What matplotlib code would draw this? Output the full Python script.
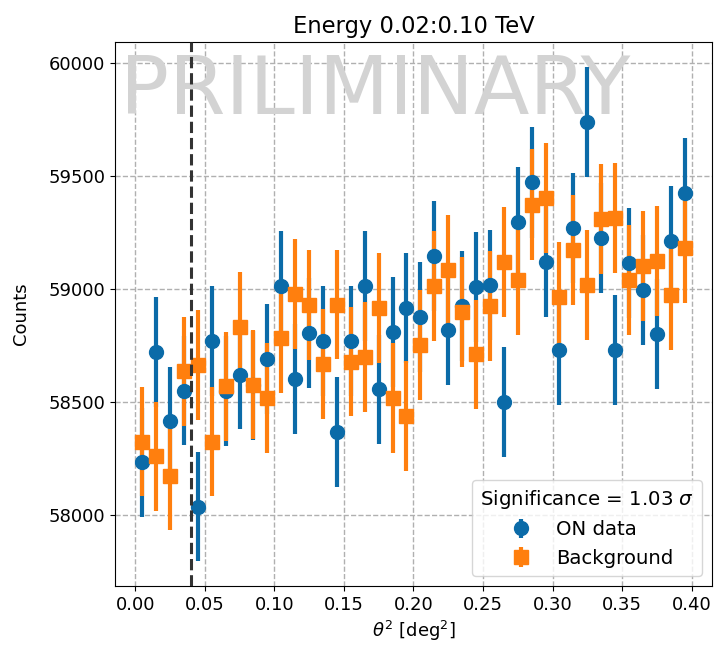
import matplotlib
matplotlib.use('Agg')
import matplotlib.pyplot as plt
import numpy as np

plt.rcParams['font.family'] = ['DejaVu Sans']
plt.rcParams['font.size'] = 13

# theta^2 bin centres (bin width 0.01 deg^2)
theta2 = np.arange(0.005, 0.40, 0.01)

on_counts = [58234, 58723, 58415, 58551, 58038, 58770, 58550, 58622, 58575, 58691,
             59014, 58604, 58806, 58770, 58368, 58770, 59014, 58557, 58811, 58917,
             58877, 59145, 58819, 58924, 59011, 59019, 58502, 59295, 59472, 59122,
             58731, 59271, 59740, 59227, 58731, 59117, 58995, 58801, 59211, 59424]
bkg_counts = [58325, 58262, 58175, 58637, 58664, 58325, 58570, 58833, 58578, 58518,
              58783, 58980, 58929, 58669, 58932, 58680, 58699, 58917, 58518, 58439,
              58754, 59014, 59087, 58898, 58712, 58925, 59122, 59040, 59374, 59402,
              58964, 59172, 59019, 59311, 59316, 59040, 59101, 59125, 58975, 59180]
on_counts = np.array(on_counts)
bkg_counts = np.array(bkg_counts)
# Poisson errors
on_err = np.sqrt(on_counts)
bkg_err = np.sqrt(bkg_counts)

theta2_cut = 0.04
significance = 1.03

fig = plt.figure(figsize=(7.19, 6.48), dpi=100)
ax = fig.add_axes([0.16, 0.0957, 0.83, 0.8398])

ax.errorbar(theta2, on_counts, yerr=on_err, fmt='o', color='#0b6ba8',
            markersize=10, elinewidth=3, label='ON data', zorder=3)
ax.errorbar(theta2, bkg_counts, yerr=bkg_err, fmt='s', color='#ff7f0e',
            markersize=10, elinewidth=3, label='Background', zorder=3)

ax.axvline(theta2_cut, color='#333333', linestyle='--', linewidth=2.2, zorder=4)

ax.grid(True, linestyle='--', color='#b0b0b0', linewidth=1)
ax.set_axisbelow(True)

ax.text(0.008, 0.98, 'PRILIMINARY', transform=ax.transAxes, fontsize=58.5,
        color='#d3d3d3', ha='left', va='top', zorder=2)

ax.set_title('Energy 0.02:0.10 TeV', fontsize=16.3)
ax.set_xlabel(r'$\theta^2$ [deg$^2$]')
ax.set_ylabel('Counts', labelpad=13)
ax.set_xticks(np.arange(0, 0.41, 0.05))

ax.legend(title=r'Significance = %.2f $\sigma$' % significance, loc='lower right',
          title_fontsize=14.2, fontsize=14.2)

fig.savefig('out.png', dpi=100)
